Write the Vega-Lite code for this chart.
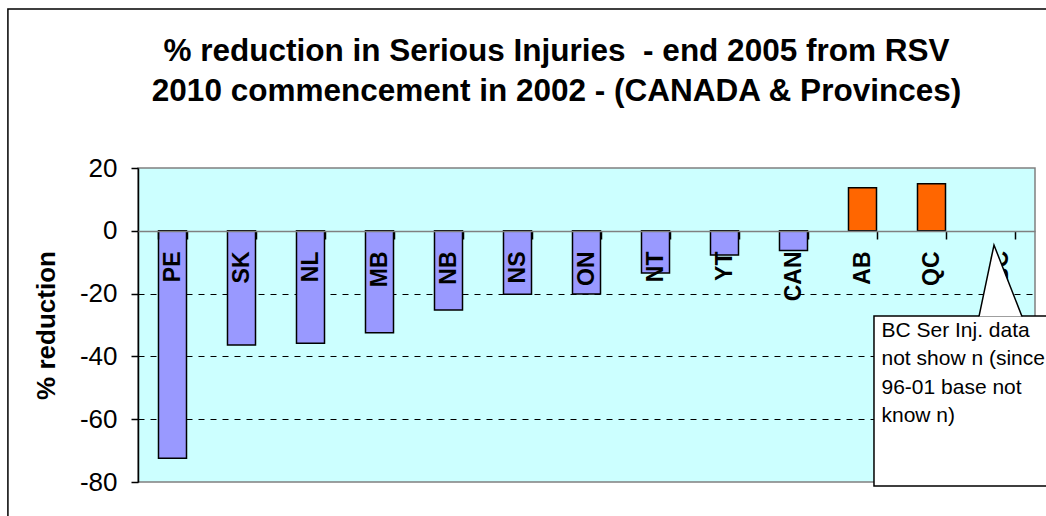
{
  "$schema": "https://vega.github.io/schema/vega-lite/v6.json",
  "width": 897,
  "height": 314,
  "autosize": {"type": "none"},
  "padding": {"left": 138, "top": 168, "right": 11, "bottom": 34},
  "background": "white",
  "config": {
    "font": "Liberation Sans",
    "view": {"fill": "#CCFFFF", "stroke": "#808080", "strokeWidth": 1.5}
  },
  "title": {
    "text": ["% reduction in Serious Injuries \u00a0- end 2005 from RSV", "2010 commencement in 2002 - (CANADA & Provinces)"],
    "fontSize": 31.5,
    "fontWeight": "bold",
    "font": "Liberation Sans",
    "color": "black",
    "anchor": "middle",
    "frame": "group",
    "dx": -30,
    "offset": -124,
    "baseline": "alphabetic",
    "lineHeight": 40
  },
  "data": {
    "values": [
      {"region": "PE", "value": -72.4},
      {"region": "SK", "value": -36.4},
      {"region": "NL", "value": -35.8},
      {"region": "MB", "value": -32.5},
      {"region": "NB", "value": -25.2},
      {"region": "NS", "value": -20.2},
      {"region": "ON", "value": -20.1},
      {"region": "NT", "value": -13.4},
      {"region": "YT", "value": -7.7},
      {"region": "CAN", "value": -6.3},
      {"region": "AB", "value": 13.7},
      {"region": "QC", "value": 15.0},
      {"region": "BC", "value": null}
    ]
  },
  "layer": [
    {
      "data": {"values": [{}]},
      "mark": {"type": "rect", "fillOpacity": 0, "stroke": "black", "strokeWidth": 1.5},
      "encoding": {
        "x": {"datum": "PE", "type": "nominal", "bandPosition": -5.375},
        "x2": {"datum": "BC", "bandPosition": 2.6},
        "y": {"datum": 70.6, "type": "quantitative"},
        "y2": {"datum": -95}
      }
    },
    {
      "mark": {"type": "bar", "stroke": "black", "strokeWidth": 1.5},
      "encoding": {
        "x": {
          "field": "region",
          "type": "nominal",
          "sort": null,
          "scale": {
            "domain": ["PE", "SK", "NL", "MB", "NB", "NS", "ON", "NT", "YT", "CAN", "AB", "QC", "BC"],
            "paddingInner": 0.594,
            "paddingOuter": 0.297
          },
          "axis": {
            "orient": "bottom",
            "offset": -251,
            "title": null,
            "labelAngle": -90,
            "labelFontSize": 23,
            "labelFontWeight": "bold",
            "labelColor": "black",
            "labelPadding": 12,
            "labelExpr": "datum.label == 'BC' ? '' : datum.label",
            "tickSize": 8,
            "tickColor": "black",
            "tickWidth": 1.5,
            "tickBand": "extent",
            "domainColor": "#808080",
            "domainWidth": 1.5,
            "labelOverlap": false,
            "labelBound": false,
            "grid": false,
            "zindex": 1
          }
        },
        "y": {
          "field": "value",
          "type": "quantitative",
          "scale": {"domain": [-80, 20], "nice": false},
          "axis": {
            "values": [20, 0, -20, -40, -60, -80],
            "labelExpr": "datum.value + ''",
            "title": "% reduction",
            "titleFontSize": 26,
            "titleFontWeight": "bold",
            "titleColor": "black",
            "titlePadding": 20,
            "labelFontSize": 26,
            "labelColor": "black",
            "labelPadding": 14,
            "labelFlush": false,
            "tickSize": 7,
            "tickColor": "black",
            "tickWidth": 1.5,
            "domainColor": "black",
            "domainWidth": 1.5,
            "grid": true,
            "gridColor": "black",
            "gridDash": [6, 6],
            "gridWidth": 1,
            "gridOpacity": {"condition": {"test": "datum.value < -10 && datum.value > -70", "value": 1}, "value": 0}
          }
        },
        "color": {"condition": {"test": "datum.value > 0", "value": "#FF6600"}, "value": "#9999FF"}
      }
    },
    {
      "data": {"values": [{}]},
      "mark": {"type": "rect", "fill": "white", "stroke": "black", "strokeWidth": 1.5},
      "encoding": {
        "x": {"datum": "AB", "type": "nominal", "bandPosition": 0.91},
        "x2": {"datum": "BC", "bandPosition": 2.6},
        "y": {"datum": -27.1, "type": "quantitative"},
        "y2": {"datum": -81.3}
      }
    },
    {
      "data": {"values": [{}]},
      "mark": {"type": "text", "text": "BC", "angle": 270, "align": "right", "baseline": "middle", "dx": -20, "fontSize": 23, "fontWeight": "bold", "color": "black"},
      "encoding": {
        "x": {"datum": "BC", "type": "nominal"},
        "y": {"datum": 0, "type": "quantitative"}
      }
    },
    {
      "data": {"values": [{}]},
      "mark": {"type": "point", "shape": "M-0.614,1.04L-0.186,-1L0.614,1.04", "size": 4900, "filled": true, "fill": "white", "stroke": "black", "strokeWidth": 1.5, "opacity": 1},
      "encoding": {
        "x": {"datum": "BC", "type": "nominal"},
        "y": {"datum": -15.67, "type": "quantitative"}
      }
    },
    {
      "data": {"values": [{}]},
      "mark": {"type": "text", "text": ["BC Ser Inj. data", "not show n (since", "96-01 base not", "know n)"], "align": "left", "baseline": "alphabetic", "dx": 19, "fontSize": 21, "lineHeight": 28.5, "color": "black"},
      "encoding": {
        "x": {"datum": "AB", "type": "nominal"},
        "y": {"datum": -33.8, "type": "quantitative"}
      }
    }
  ]
}
